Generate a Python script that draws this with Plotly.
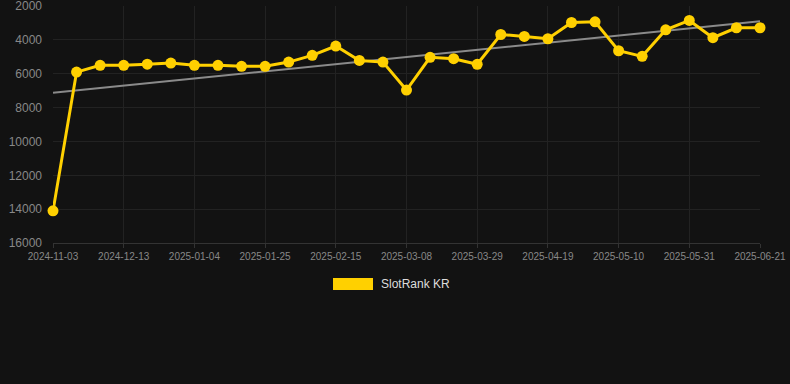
import plotly.graph_objects as go

dates = ["2024-11-03", "2024-11-29", "2024-12-06", "2024-12-13", "2024-12-20", "2024-12-27",
         "2025-01-04", "2025-01-11", "2025-01-18", "2025-01-25", "2025-02-01", "2025-02-08",
         "2025-02-15", "2025-02-22", "2025-03-01", "2025-03-08", "2025-03-15", "2025-03-22",
         "2025-03-29", "2025-04-05", "2025-04-12", "2025-04-19", "2025-04-26", "2025-05-03",
         "2025-05-10", "2025-05-17", "2025-05-24", "2025-05-31", "2025-06-07", "2025-06-14",
         "2025-06-21"]
ranks = [14100, 5900, 5500, 5500, 5430, 5370, 5500, 5500, 5560, 5560, 5310, 4910,
         4360, 5210, 5310, 6960, 5030, 5110, 5440, 3680, 3790, 3930, 2970, 2930,
         4640, 4970, 3400, 2850, 3870, 3280, 3280]
trend_x = [dates[0], dates[-1]]
trend_y = [7120, 2900]
tick_labels = dates[::3]
y_ticks = [2000, 4000, 6000, 8000, 10000, 12000, 14000, 16000]
y_tick_text = [str(v) for v in y_ticks]
series_name = "SlotRank KR"

bg = "#121212"
gold = "#FFD000"

fig = go.Figure()
fig.add_trace(go.Scatter(x=trend_x, y=trend_y, mode="lines",
                         line=dict(color="#8a8a8a", width=2), showlegend=False,
                         hoverinfo="skip"))
fig.add_trace(go.Scatter(x=dates, y=ranks, mode="lines+markers", name=series_name,
                         line=dict(color=gold, width=3),
                         marker=dict(color=gold, size=11),
                         cliponaxis=False, showlegend=False))

fig.add_shape(type="rect", xref="paper", yref="paper",
              x0=(333 - 53) / 707, x1=(373 - 53) / 707,
              y0=(243 - 290) / 237, y1=(243 - 278) / 237,
              fillcolor=gold, line=dict(width=0))
fig.add_annotation(xref="paper", yref="paper", x=(379 - 53) / 707, y=(243 - 284) / 237,
                   text=series_name, showarrow=False, xanchor="left", yanchor="middle",
                   font=dict(family="Liberation Sans, Arial", size=12, color="#dddddd"))

fig.update_layout(
    width=790, height=384,
    margin=dict(l=53, r=30, t=6, b=141),
    paper_bgcolor=bg, plot_bgcolor=bg,
    showlegend=False,
    font=dict(family="Liberation Sans, Arial", color="#888888"),
    xaxis=dict(type="category", categoryorder="array", categoryarray=dates,
               range=[0, len(dates) - 1],
               tickmode="array", tickvals=tick_labels, ticktext=tick_labels,
               tickfont=dict(size=10, color="#888888"),
               showgrid=True, gridcolor="#222222", gridwidth=1,
               showline=True, linecolor="#333333", linewidth=1,
               ticks="outside", ticklen=4, tickcolor="#333333",
               zeroline=False, fixedrange=True, ticklabeloverflow="allow",
               automargin=False),
    yaxis=dict(range=[16000, 1995], tickmode="array", tickvals=y_ticks, ticktext=y_tick_text,
               tickfont=dict(size=12, color="#888888"),
               showgrid=True, gridcolor="#222222", gridwidth=1,
               zeroline=False, showline=False, ticks="", ticklabelstandoff=10,
               fixedrange=True, ticklabeloverflow="allow", automargin=False),
)

fig.write_html("out.html", config={"displayModeBar": False},
               post_script="document.body.style.margin='0';document.body.style.background='#121212';")
